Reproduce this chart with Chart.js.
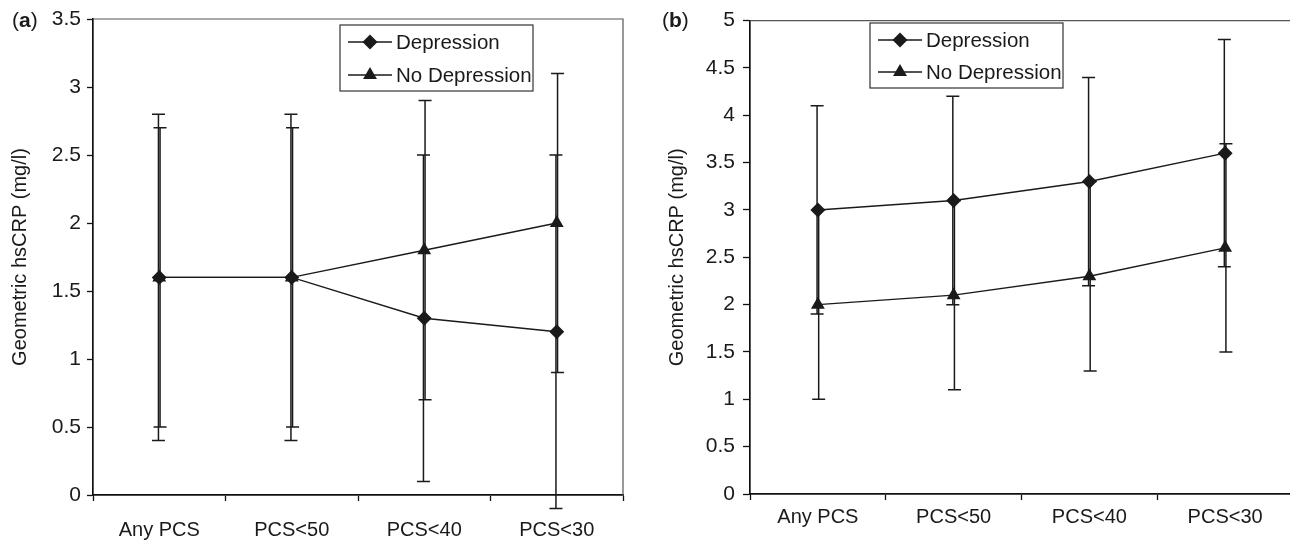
<!DOCTYPE html>
<html>
<head>
<meta charset="utf-8">
<script src="https://cdn.jsdelivr.net/npm/chart.js@4.4.1/dist/chart.umd.min.js"></script>
<style>
  html, body { margin: 0; padding: 0; background: #fff; overflow: hidden; }
  #wrap { position: relative; width: 1290px; height: 544px; overflow: hidden; }
  #chartA { position: absolute; left: 0; top: 0; }
  #chartB { position: absolute; left: 640px; top: 0; }
</style>
</head>
<body>
<div id="wrap">
  <canvas id="chartA" width="640" height="544"></canvas>
  <canvas id="chartB" width="661" height="544"></canvas>
</div>
<script>
// categorías comunes
const categories = ['Any PCS', 'PCS<50', 'PCS<40', 'PCS<30'];
const seriesNames = ['Depression', 'No Depression'];

// panel (a)
const aDepression = [1.6, 1.6, 1.3, 1.2];
const aDepressionLow = [0.4, 0.4, 0.1, -0.1];
const aDepressionHigh = [2.8, 2.8, 2.5, 2.5];
const aNoDepression = [1.6, 1.6, 1.8, 2.0];
const aNoDepressionLow = [0.5, 0.5, 0.7, 0.9];
const aNoDepressionHigh = [2.7, 2.7, 2.9, 3.1];
const aTicks = [0, 0.5, 1, 1.5, 2, 2.5, 3, 3.5];

// panel (b)
const bDepression = [3.0, 3.1, 3.3, 3.6];
const bDepressionLow = [1.9, 2.0, 2.2, 2.4];
const bDepressionHigh = [4.1, 4.2, 4.4, 4.8];
const bNoDepression = [2.0, 2.1, 2.3, 2.6];
const bNoDepressionLow = [1.0, 1.1, 1.3, 1.5];
const bNoDepressionHigh = [3.0, 3.1, 3.3, 3.7];
const bTicks = [0, 0.5, 1, 1.5, 2, 2.5, 3, 3.5, 4, 4.5, 5];

const INK = '#1a1a1a';
const FONT = '"Liberation Sans", Arial, sans-serif';
Chart.defaults.font.family = FONT;
Chart.defaults.color = INK;

function marker(ctx, style, r, x, y) {
  ctx.beginPath();
  if (style === 'rectRot') {
    ctx.moveTo(x - r, y); ctx.lineTo(x, y - r); ctx.lineTo(x + r, y); ctx.lineTo(x, y + r);
  } else {
    const w = r * Math.sqrt(3) / 2;
    ctx.moveTo(x, y - r); ctx.lineTo(x + w, y + r / 2); ctx.lineTo(x - w, y + r / 2);
  }
  ctx.closePath();
  ctx.fill();
}

// barras de error dibujadas con las escalas del gráfico
const errorBars = {
  id: 'errorBars',
  beforeDatasetsDraw(chart, args, opts) {
    const { ctx, scales: { x, y } } = chart;
    ctx.save();
    ctx.strokeStyle = INK;
    ctx.lineWidth = 1.5;
    chart.data.datasets.forEach((ds, i) => {
      const shift = i === 0 ? -0.8 : 0.8;
      ds.data.forEach((v, j) => {
        const px = x.getPixelForValue(j) + shift;
        const top = y.getPixelForValue(ds.errHigh[j]);
        const bot = y.getPixelForValue(ds.errLow[j]);
        ctx.beginPath();
        ctx.moveTo(px, top); ctx.lineTo(px, bot);
        ctx.moveTo(px - opts.cap, top); ctx.lineTo(px + opts.cap, top);
        ctx.moveTo(px - opts.cap, bot); ctx.lineTo(px + opts.cap, bot);
        ctx.stroke();
      });
    });
    ctx.restore();
  }
};

// marco, leyenda con borde y etiqueta (a)/(b)
const decor = {
  id: 'decor',
  afterDraw(chart, args, o) {
    const { ctx, chartArea: ca } = chart;
    ctx.save();
    ctx.strokeStyle = '#555';
    ctx.lineWidth = 1.2;
    ctx.beginPath();
    ctx.moveTo(ca.left, ca.top); ctx.lineTo(ca.right, ca.top); ctx.lineTo(ca.right, ca.bottom);
    ctx.stroke();

    const lg = o.legend;
    ctx.fillStyle = '#fff';
    ctx.fillRect(lg.x, lg.y, lg.w, lg.h);
    ctx.strokeStyle = '#333';
    ctx.lineWidth = 1.2;
    ctx.strokeRect(lg.x, lg.y, lg.w, lg.h);
    ctx.font = '20.5px ' + FONT;
    ctx.textBaseline = 'middle';
    chart.data.datasets.forEach((ds, i) => {
      const cy = lg.y + lg.first + i * lg.row;
      ctx.strokeStyle = INK;
      ctx.lineWidth = 1.3;
      ctx.beginPath();
      ctx.moveTo(lg.x + 8, cy); ctx.lineTo(lg.x + 52, cy);
      ctx.stroke();
      ctx.fillStyle = INK;
      marker(ctx, ds.pointStyle, ds.pointRadius, lg.x + 30, cy);
      ctx.fillText(ds.label, lg.x + 56, cy + 1);
    });

    // etiqueta del panel
    ctx.font = '21px ' + FONT;
    let px = o.tag.x;
    ctx.fillText('(', px, o.tag.y); px += ctx.measureText('(').width;
    ctx.font = 'bold 21px ' + FONT;
    ctx.fillText(o.tag.text, px, o.tag.y); px += ctx.measureText(o.tag.text).width;
    ctx.font = '21px ' + FONT;
    ctx.fillText(')', px, o.tag.y);
    ctx.restore();
  }
};

function makeChart(id, cfg) {
  const ctx = document.getElementById(id).getContext('2d');
  return new Chart(ctx, {
    type: 'line',
    data: {
      labels: categories,
      datasets: [{
        label: seriesNames[0],
        data: cfg.dep, errLow: cfg.depLow, errHigh: cfg.depHigh,
        borderColor: INK, borderWidth: 1.4, pointStyle: 'rectRot', pointRadius: 7.5,
        pointBackgroundColor: INK, pointBorderColor: INK, pointBorderWidth: 0, tension: 0
      }, {
        label: seriesNames[1],
        data: cfg.noDep, errLow: cfg.noDepLow, errHigh: cfg.noDepHigh,
        borderColor: INK, borderWidth: 1.4, pointStyle: 'triangle', pointRadius: 8,
        pointBackgroundColor: INK, pointBorderColor: INK, pointBorderWidth: 0, tension: 0
      }]
    },
    options: {
      responsive: false,
      animation: false,
      events: [],
      layout: { padding: cfg.padding },
      scales: {
        x: {
          offset: true,
          afterFit: s => { s.height = cfg.xHeight; },
          border: { display: true, color: '#111', width: 1.7 },
          grid: { offset: true, drawOnChartArea: false, tickLength: 6, color: '#111', tickWidth: 1.3 },
          ticks: { padding: cfg.xPad, maxRotation: 0, autoSkip: false, color: INK, font: { size: 20 } }
        },
        y: {
          min: 0, max: cfg.max,
          afterBuildTicks: s => { s.ticks = cfg.ticks.map(v => ({ value: v })); },
          afterFit: s => { s.width = cfg.yWidth; },
          border: { display: true, color: '#111', width: 1.7 },
          grid: { drawOnChartArea: false, tickLength: cfg.yTick, color: '#111', tickWidth: 1.3 },
          ticks: { padding: cfg.yPad, color: INK, font: { size: 21 }, callback: v => String(v) },
          title: { display: true, text: 'Geometric hsCRP (mg/l)', padding: { top: cfg.titlePad, bottom: 0 }, color: INK, font: { size: 20 } }
        }
      },
      plugins: {
        legend: { display: false },
        tooltip: { enabled: false },
        errorBars: { cap: 6.5 },
        decor: { legend: cfg.legend, tag: cfg.tag }
      }
    },
    plugins: [errorBars, decor]
  });
}

makeChart('chartA', {
  dep: aDepression, depLow: aDepressionLow, depHigh: aDepressionHigh,
  noDep: aNoDepression, noDepLow: aNoDepressionLow, noDepHigh: aNoDepressionHigh,
  ticks: aTicks, max: 3.5,
  padding: { top: 19, right: 17, left: 0, bottom: 0 },
  xHeight: 49, xPad: 17, yWidth: 93, yTick: 6, yPad: 6, titlePad: 8,
  legend: { x: 340, y: 25, w: 193, h: 66, first: 17, row: 33 },
  tag: { x: 12, y: 21, text: 'a' }
});

makeChart('chartB', {
  dep: bDepression, depLow: bDepressionLow, depHigh: bDepressionHigh,
  noDep: bNoDepression, noDepLow: bNoDepressionLow, noDepHigh: bNoDepressionHigh,
  ticks: bTicks, max: 5,
  padding: { top: 19, right: 0, left: 0, bottom: 0 },
  xHeight: 50, xPad: 5, yWidth: 110, yTick: 7, yPad: 8, titlePad: 25,
  legend: { x: 230, y: 23, w: 193, h: 65, first: 17, row: 32 },
  tag: { x: 22, y: 21, text: 'b' }
});
</script>
</body>
</html>
